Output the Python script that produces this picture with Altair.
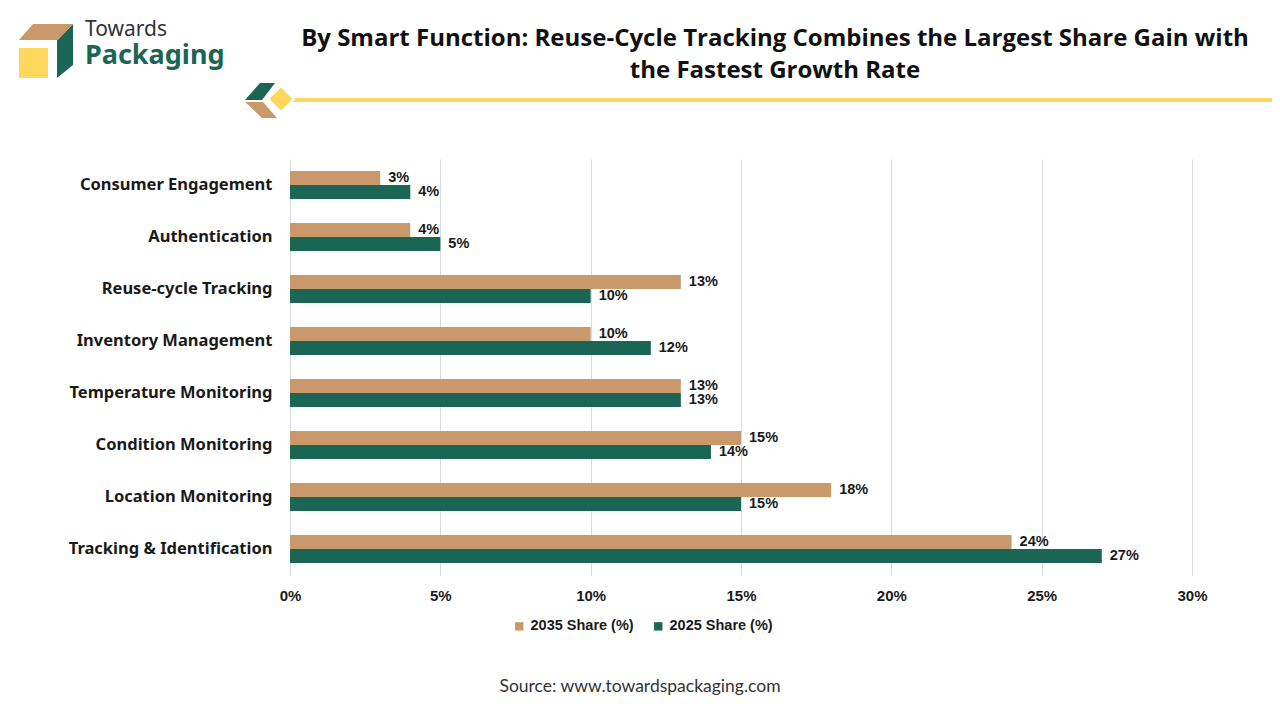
import altair as alt
import pandas as pd

categories = ["Consumer Engagement", "Authentication", "Reuse-cycle Tracking",
              "Inventory Management", "Temperature Monitoring", "Condition Monitoring",
              "Location Monitoring", "Tracking & Identification"]
share_2035 = [3, 4, 13, 10, 13, 15, 18, 24]
share_2025 = [4, 5, 10, 12, 13, 14, 15, 27]
series = ["2035 Share (%)", "2025 Share (%)"]
colors = ["#C9996B", "#1B6555"]
x_ticks = [0, 5, 10, 15, 20, 25, 30]

title_lines = ["By Smart Function: Reuse-Cycle Tracking Combines the Largest Share Gain with",
               "the Fastest Growth Rate"]
source_text = "Source: www.towardspackaging.com"

rows = []
for c, a, b in zip(categories, share_2035, share_2025):
    rows.append({"cat": c, "series": series[0], "value": a})
    rows.append({"cat": c, "series": series[1], "value": b})
df = pd.DataFrame(rows)
df["label"] = df["value"].astype(str) + "%"

one = pd.DataFrame({"k": [0]})

LBL = "Liberation Sans"
DARK = "#1a1a1a"

y_enc = alt.Y("cat:N", sort=categories,
              scale=alt.Scale(paddingInner=0.46, paddingOuter=0.23),
              axis=alt.Axis(title=None, domain=False, ticks=False, grid=False,
                            labelPadding=18, labelLimit=400, labelFont="Noto Sans",
                            labelFontSize=16.5, labelFontWeight="bold", labelColor=DARK))
yoff = alt.YOffset("series:N", sort=series, scale=alt.Scale(paddingInner=0, paddingOuter=0))
x_enc = alt.X("value:Q", scale=alt.Scale(domain=[0, 30]),
              axis=alt.Axis(values=x_ticks, title=None, labelExpr="datum.value + '%'",
                            domain=False, ticks=False, grid=True, gridColor="#d9d9d9",
                            labelFlush=False, labelPadding=13, labelFont=LBL, labelFontSize=15,
                            labelFontWeight="bold", labelColor=DARK))

bars = alt.Chart(df).mark_bar().encode(
    x=x_enc, y=y_enc, yOffset=yoff,
    color=alt.Color("series:N", sort=series,
                    scale=alt.Scale(domain=series, range=colors),
                    legend=alt.Legend(title=None, orient="none", direction="horizontal",
                                      legendX=222, legendY=460, padding=0,
                                      symbolType="square", symbolSize=70,
                                      symbolStrokeWidth=0, labelFont=LBL,
                                      labelFontSize=14.5, labelFontWeight="bold",
                                      labelColor=DARK, labelOffset=4, columnPadding=17))
)

labels = alt.Chart(df).mark_text(align="left", baseline="middle", dx=8, font=LBL,
                                 fontSize=14.5, fontWeight="bold", color=DARK).encode(
    x="value:Q", y=alt.Y("cat:N", sort=categories), yOffset=alt.YOffset("series:N", sort=series),
    text="label:N")


def txt(s, x, y, size, weight="normal", color=DARK, font=LBL, align="left"):
    return alt.Chart(one).mark_text(text=s, align=align, baseline="alphabetic", font=font,
                                    fontSize=size, fontWeight=weight, color=color).encode(
        x=alt.value(x), y=alt.value(y))


def shape(path, cx, cy, r, color):
    return alt.Chart(one).mark_point(shape=path, filled=True, opacity=1, color=color,
                                     size=4 * r * r, strokeWidth=0).encode(
        x=alt.value(cx), y=alt.value(cy))


title1 = txt(title_lines[0], 485, -113, 24, "bold", "#111111", "Open Sans", "center")
title2 = txt(title_lines[1], 485, -81, 24, "bold", "#111111", "Open Sans", "center")
source = txt(source_text, 350, 533, 17.5, "normal", "#333333", "Lato", "center")

logo_t1 = txt("Towards", -205, -123, 21, "normal", "#333333", "Noto Sans")
logo_t2 = txt("Packaging", -205, -95, 27, "bold", "#1B6555", "Noto Sans")

logo_sq = alt.Chart(one).mark_rect(color="#FDD85D").encode(
    x=alt.value(-271), x2=alt.value(-242), y=alt.value(-111), y2=alt.value(-81))
logo_green = shape("M0.267,-0.9L0.267,0.467L-0.267,0.9L-0.267,-0.367Z", -225, -108, 30, "#1B6555")
logo_tan = shape("M-0.9,0.267L-0.433,-0.267L0.9,-0.267L0.4,0.267Z", -244, -127, 30, "#C9996B")

line = alt.Chart(one).mark_rule(color="#FDD85D", strokeWidth=4).encode(
    x=alt.value(-5), x2=alt.value(990), y=alt.value(-59))
chev_g = shape("M-0.75,0.4L0,-0.45L0.75,-0.45L0.1,0.4Z", -30, -67, 20, "#1B6555")
chev_t = shape("M-0.75,-0.4L0.15,-0.4L0.85,0.4L0.1,0.4Z", -30, -49, 20, "#C9996B")
diamond = alt.Chart(one).mark_point(shape="M-1,0L0,-1L1,0L0,1Z", filled=True, opacity=1,
                                    color="#FDD85D", size=4 * 13 * 13, stroke="white",
                                    strokeWidth=2).encode(x=alt.value(-9), y=alt.value(-60))

chart = alt.layer(
    bars, labels, title1, title2, source, logo_sq, logo_green, logo_tan, logo_t1, logo_t2,
    line, chev_g, chev_t, diamond
).properties(
    width=902, height=416,
    padding={"left": 282, "top": 151, "right": 80, "bottom": 133},
    autosize=alt.AutoSizeParams(type="none"),
    background="white"
).configure_view(stroke=None)

chart.save("out.html", embed_options={"renderer": "svg", "actions": False})
